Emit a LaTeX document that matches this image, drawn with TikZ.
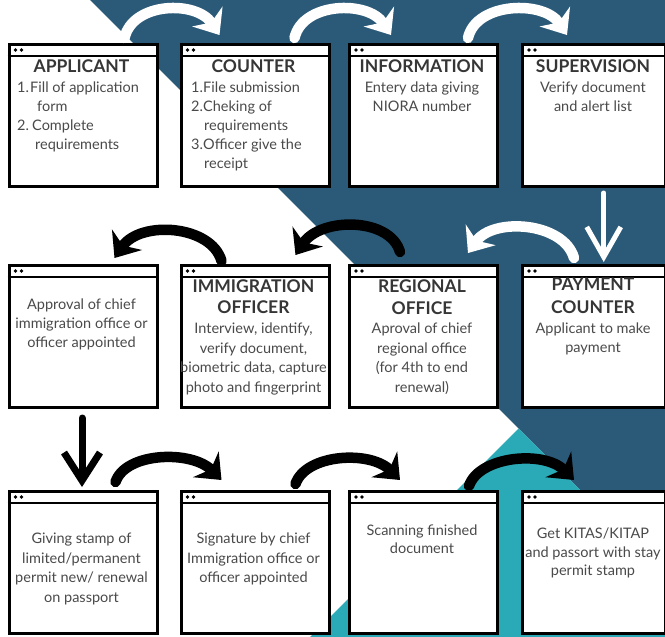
\documentclass[tikz,border=0pt]{standalone}
\usepackage{fontspec}
\setmainfont{Lato}
\usetikzlibrary{arrows.meta,calc}
\definecolor{navy}{HTML}{2B5A79}
\definecolor{teal2}{HTML}{2AA9B6}
\definecolor{hdgray}{HTML}{363636}
\definecolor{bdgray}{HTML}{4A4A4A}
\tikzset{
 winframe/.style={draw=black, line width=3pt, fill=white, rectangle, inner sep=0pt, anchor=north west, minimum height=142pt},
 titlebar/.style={line width=2.2pt},
 hd/.style={font=\fontsize{17.5}{21}\selectfont\bfseries, text=hdgray, inner sep=0pt, anchor=base},
 bd/.style={font=\fontsize{14.5}{19}\selectfont, text=bdgray, inner sep=0pt, anchor=base},
 bdl/.style={bd, anchor=base west},
 warc/.style={draw=white, line width=10.5pt, line cap=round, -{Stealth[length=22pt,width=36pt,inset=7pt]}},
 barc/.style={warc, draw=black},
 wdown/.style={draw=white, line width=5pt, line cap=round, -{Straight Barb[length=30pt,width=34pt]}},
 bdown/.style={draw=black, line width=7pt, line cap=round, -{Straight Barb[length=28pt,width=36pt]}},
}
\newcommand\winbox[4]{%
  \node[winframe, minimum width=#4pt] (#1) at (#2,#3) {};
  \draw[titlebar] ($(#1.north west)+(0,13)$) -- ($(#1.north east)+(0,13)$);
  \fill ($(#1.north west)+(8,7)$) circle (1.8pt) ($(#1.north west)+(14,7)$) circle (1.8pt);
}
\begin{document}
\begin{tikzpicture}[x=1pt,y=-1pt]
\useasboundingbox (0,0) rectangle (665,637);
\fill[white] (0,0) rectangle (665,637);
% background
\fill[navy] (90,0) -- (665,0) -- (665,575) -- cycle;
\fill[teal2] (518.5,428.5) -- (665,575) -- (665,637) -- (310,637) -- cycle;
% boxes
\winbox{app}{7.5}{43}{148}
\winbox{cnt}{179.5}{43}{148}
\winbox{inf}{348}{43}{148}
\winbox{sup}{521}{43}{142.5}
\winbox{apr}{7.5}{264}{148}
\winbox{imm}{179.5}{264}{148}
\winbox{reg}{348}{264}{148}
\winbox{pay}{521}{264}{142.5}
\winbox{giv}{7.5}{490}{148}
\winbox{sig}{179.5}{490}{148}
\winbox{scn}{348}{490}{148}
\winbox{kit}{521}{490}{142.5}
% row 1 texts
\node[hd] (h1) at (81.5,72) {APPLICANT};
\node[bdl] (t1a) at (17,92) {1.};
\node[bdl] (t1b) at (30,92) {Fill of application};
\node[bdl] (t1c) at (37,111) {form};
\node[bdl] (t1d) at (17,130) {2.};
\node[bdl] (t1e) at (32,130) {Complete};
\node[bdl] (t1f) at (35,149) {requirements};
\node[hd] (h2) at (253.5,72) {COUNTER};
\node[bdl] (t2a) at (191,92) {1.};
\node[bdl] (t2b) at (203,92) {File submission};
\node[bdl] (t2c) at (191,111) {2.};
\node[bdl] (t2d) at (203,111) {Cheking of};
\node[bdl] (t2e) at (204,130) {requirements};
\node[bdl] (t2f) at (191,149) {3.};
\node[bdl] (t2g) at (203,149) {Officer give the};
\node[bdl] (t2h) at (204,168) {receipt};
\node[hd] (h3) at (422,72) {INFORMATION};
\node[bd] (t3a) at (422,92) {Entery data giving};
\node[bd] (t3b) at (422,111) {NIORA number};
\node[hd] (h4) at (593,72) {SUPERVISION};
\node[bd] (t4a) at (593,92) {Verify document};
\node[bd] (t4b) at (593,111) {and alert list};
% row 2 texts
\node[bd] (t5a) at (81.5,309) {Approval of chief};
\node[bd] (t5b) at (81.5,328) {immigration office or};
\node[bd] (t5c) at (81.5,347) {officer appointed};
\node[hd] (h6a) at (253.5,292) {IMMIGRATION};
\node[hd] (h6b) at (253.5,313) {OFFICER};
\node[bd] (t6a) at (253.5,333) {Interview, identify,};
\node[bd] (t6b) at (253.5,353) {verify document,};
\node[bd] (t6c) at (253.5,372) {biometric data, capture};
\node[bd] (t6d) at (253.5,392) {photo and fingerprint};
\node[hd] (h7a) at (422,292) {REGIONAL};
\node[hd] (h7b) at (422,314) {OFFICE};
\node[bd] (t7a) at (422,333) {Aproval of chief};
\node[bd] (t7b) at (422,353) {regional office};
\node[bd] (t7c) at (422,372) {(for 4th to end};
\node[bd] (t7d) at (422,392) {renewal)};
\node[hd] (h8a) at (593,290) {PAYMENT};
\node[hd] (h8b) at (593,313) {COUNTER};
\node[bd] (t8a) at (593,333) {Applicant to make};
\node[bd] (t8b) at (593,352) {payment};
% row 3 texts
\node[bd] (t9a) at (81.5,543) {Giving stamp of};
\node[bd] (t9b) at (81.5,563) {limited/permanent};
\node[bd] (t9c) at (81.5,582) {permit new/ renewal};
\node[bd] (t9d) at (81.5,602) {on passport};
\node[bd] (t10a) at (253.5,543) {Signature by chief};
\node[bd] (t10b) at (253.5,563) {Immigration office or};
\node[bd] (t10c) at (253.5,582) {officer appointed};
\node[bd] (t11a) at (422,535) {Scanning finished};
\node[bd] (t11b) at (422,553) {document};
\node[bd] (t12a) at (593,538) {Get KITAS/KITAP};
\node[bd] (t12b) at (593,557) {and passort with stay};
\node[bd] (t12c) at (593,575) {permit stamp};
% arrows row 1
\draw[warc] ($(app.north east)+(-34,-5)$) .. controls +(8,-36) and +(-23,-35) .. ($(cnt.north west)+(40,-8)$);
\draw[warc] ($(cnt.north east)+(-36,-5)$) .. controls +(8,-36) and +(-23,-35) .. ($(inf.north west)+(43,-8)$);
\draw[warc] ($(inf.north east)+(-31,-5)$) .. controls +(8,-36) and +(-23,-35) .. ($(sup.north west)+(46,-8)$);
\draw[wdown] ($(sup.south)+(10,5)$) -- ($(pay.north)+(10,-2)$);
% arrows row 2
\draw[warc] ($(pay.north west)+(53,-6)$) .. controls +(-10,-36) and +(25,-36) .. ($(reg.north east)+(-31,-11)$);
\draw[barc] ($(reg.north west)+(52,-12)$) .. controls +(-10,-35) and +(25,-38) .. ($(imm.north east)+(-35,-9)$);
\draw[barc] ($(imm.north west)+(42,-3)$) .. controls +(-10,-36) and +(26,-38) .. ($(apr.north east)+(-44,-6)$);
\draw[bdown] ($(apr.south)+(-1,9)$) -- ($(giv.north)+(-1,-3)$);
% arrows row 3
\draw[barc] ($(giv.north east)+(-43,-8)$) .. controls +(10,-30) and +(-30,-30) .. ($(sig.north west)+(42,-10)$);
\draw[barc] ($(sig.north east)+(-35,-6)$) .. controls +(10,-30) and +(-30,-30) .. ($(scn.north west)+(52,-10)$);
\draw[barc] ($(scn.north east)+(-30,-4)$) .. controls +(10,-30) and +(-30,-30) .. ($(kit.north west)+(53,-10)$);
\end{tikzpicture}
\end{document}
